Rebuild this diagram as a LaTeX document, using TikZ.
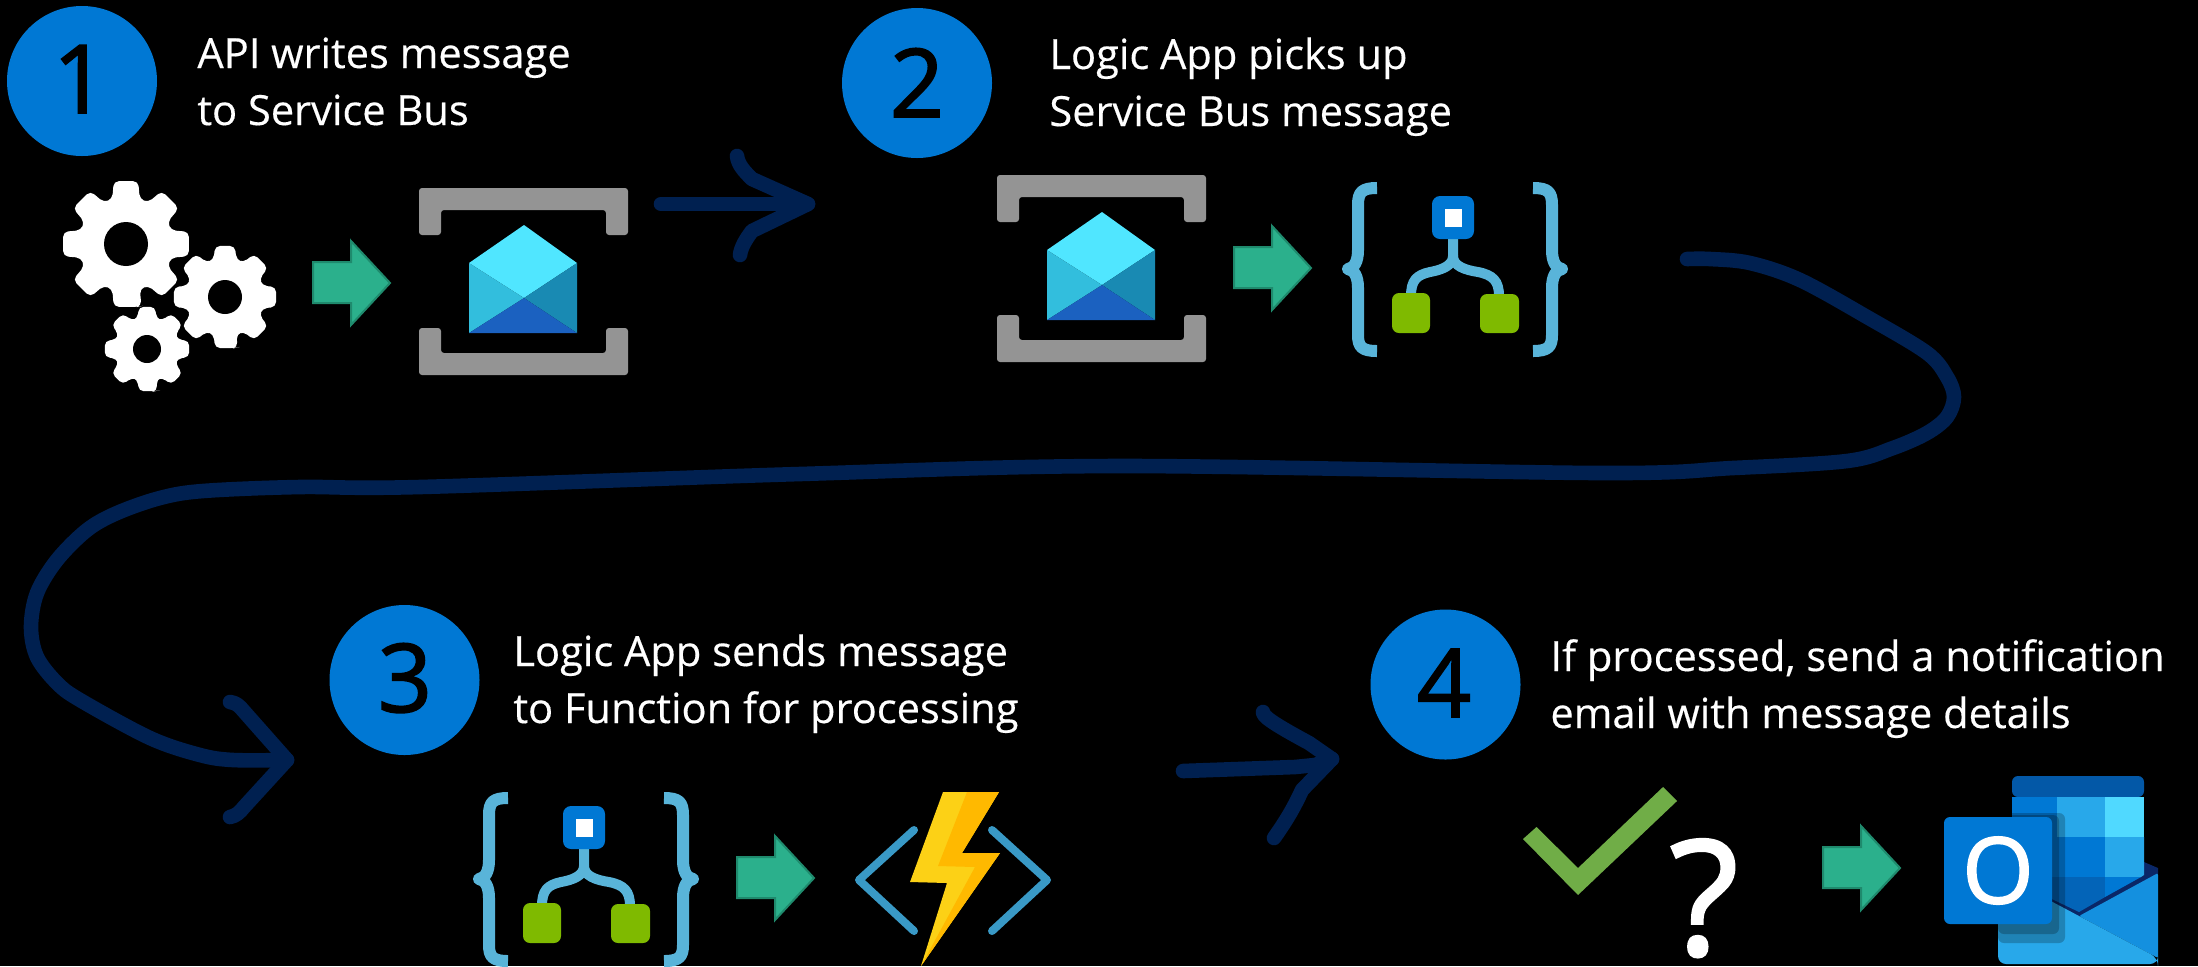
\documentclass[tikz,border=0pt]{standalone}
\usepackage{fontspec}
\setmainfont{Open Sans}
\newfontfamily\capfont[FakeBold=0.35]{Open Sans}
\newfontfamily\digfont[FakeBold=1.6]{Open Sans}
\definecolor{navy}{HTML}{002050}
\definecolor{stepblue}{HTML}{0078D4}
\definecolor{arrowfill}{HTML}{2BB08C}
\definecolor{arrowedge}{HTML}{1F8A6D}
\definecolor{sbgray}{HTML}{949494}
\definecolor{bracelight}{HTML}{59B4D9}
\definecolor{leafgreen}{HTML}{7FBA00}
\definecolor{checkgreen}{HTML}{70AD47}
\tikzset{
  conn/.style={draw=navy,line width=7.3pt,line cap=round,line join=round},
  stepdisc/.style={circle,fill=stepblue,minimum size=75pt,inner sep=0pt},
  digit/.style={text=black,anchor=base,inner sep=0pt,font=\digfont\fontsize{47.5}{50}\selectfont},
  caption/.style={text=white,anchor=base west,inner sep=0pt,align=left,font=\capfont\fontsize{20.8}{28.5}\selectfont},
  bracebar/.style={draw=bracelight,line width=6pt,line join=round},
  gearfill/.style={fill=white,rounded corners=2.5pt}
}
\newcommand{\mygear}[7]{% name cx cy R r hole rot
  \begin{scope}[shift={(#2,#3)}]
    \fill[gearfill] (#7-14:#4)
      \foreach \k in {0,45,...,315}{
        -- (#7+\k-11:#4) -- (#7+\k+11:#4) -- (#7+\k+17:#5) -- (#7+\k+28:#5)
      } -- cycle;
    \node[circle,fill=black,inner sep=0pt,minimum size=#6pt] (#1) at (0,0) {};
  \end{scope}}
\newcommand{\greenarrow}[3]{% name dx dy
  \begin{scope}[shift={(#2,#3)}]
    \node[inner sep=0pt] (#1) at (351,283) {};
    \filldraw[fill=arrowfill,draw=arrowedge,line width=1pt,line join=miter]
      (313,262) -- (351,262) -- (351,241) -- (390,283) -- (351,325) -- (351,303) -- (313,303) -- cycle;
  \end{scope}}
\newcommand{\sbicon}[3]{% name dx dy
  \begin{scope}[shift={(#2,#3)}]
    \node[inner sep=0pt] (#1) at (524,281) {};
    \fill[sbgray,rounded corners=1.5pt] (419,188) -- (628,188) -- (628,235) -- (606,235) -- (606,210) -- (441,210) -- (441,235) -- (419,235) -- cycle;
    \fill[sbgray,rounded corners=1.5pt] (419,328) -- (441,328) -- (441,353) -- (606,353) -- (606,328) -- (628,328) -- (628,375) -- (419,375) -- cycle;
    \fill[fill={rgb,255:red,80;green,230;blue,255}] (469,263) -- (524,225) -- (577,263) -- (524,298) -- cycle;
    \fill[fill={rgb,255:red,50;green,190;blue,221}] (469,263) -- (524,298) -- (469,333) -- cycle;
    \fill[fill={rgb,255:red,25;green,138;blue,179}] (577,263) -- (524,298) -- (577,333) -- cycle;
    \fill[fill={rgb,255:red,27;green,97;blue,192}] (469,333) -- (524,298) -- (577,333) -- cycle;
  \end{scope}}
\newcommand{\logicicon}[3]{% name dx dy
  \begin{scope}[shift={(#2,#3)}]
    \draw[bracebar] (1377,188) .. controls (1362,188) and (1358,192) .. (1358,205) -- (1358,250)
       .. controls (1358,262) and (1354,268) .. (1348,269) .. controls (1354,270) and (1358,276) .. (1358,288)
       -- (1358,335) .. controls (1358,347) and (1362,351) .. (1377,351);
    \draw[bracebar] (1533,188) .. controls (1548,188) and (1552,192) .. (1552,205) -- (1552,250)
       .. controls (1552,262) and (1556,268) .. (1562,269) .. controls (1556,270) and (1552,276) .. (1552,288)
       -- (1552,335) .. controls (1552,347) and (1548,351) .. (1533,351);
    \draw[draw=bracelight,line width=5pt] (1453,235) -- (1453,256) .. controls (1453,266) and (1441,270) .. (1430,272) .. controls (1416,275) and (1411,281) .. (1411,296);
    \draw[draw=bracelight,line width=5pt] (1453,256) .. controls (1453,266) and (1465,270) .. (1478,272) .. controls (1493,275) and (1499,281) .. (1499,296);
    \node[fill=stepblue,rounded corners=4pt,minimum width=21pt,minimum height=21.5pt,inner sep=0pt] (#1) at (1453,217.5) {};
    \fill[white] (1445,209) rectangle (1462,227);
    \fill[leafgreen,rounded corners=3.5pt] (1392,293) rectangle (1430,333);
    \fill[leafgreen,rounded corners=3.5pt] (1480,294) rectangle (1519,333);
  \end{scope}}
\begin{document}
\begin{tikzpicture}[x=0.5pt,y=-0.5pt]
\useasboundingbox (0,0) rectangle (2198,966);
\fill[black] (0,0) rectangle (2198,966);

% step discs and digits
\node[stepdisc] (s1) at (82,81) {};
\node[stepdisc] (s2) at (917,83) {};
\node[stepdisc] (s3) at (404.5,680) {};
\node[stepdisc] (s4) at (1445.5,684.5) {};
\node[digit] (d1) at (80,113) {1};
\node[digit] (d2) at (917,117) {2};
\node[digit] (d3) at (405,712) {3};
\node[digit] (d4) at (1444,717) {4};

% captions
\node[caption] (t1) at (197,125) {API writes message\\to Service Bus};
\node[caption] (t2) at (1049,126) {Logic App picks up\\Service Bus message};
\node[caption] (t3) at (513,723) {Logic App sends message\\to Function for processing};
\node[caption] (t4) at (1550,728) {If processed, send a notification\\email with message details};

% gears
\mygear{g1}{126}{244}{64}{47}{22}{90}
\mygear{g2}{225}{297}{52}{39}{17}{90}
\mygear{g3}{147}{349}{43}{32}{14}{90}

% green arrows
\greenarrow{a1}{0}{0}
\greenarrow{a2}{921}{-15}
\greenarrow{a3}{424}{595}
\greenarrow{a4}{1510}{585}

% service bus icons
\sbicon{b1}{0}{0}
\sbicon{b2}{578}{-13}

% logic apps
\logicicon{l1}{0}{0}
\logicicon{l2}{-869}{610}

% function
\begin{scope}
  \node[inner sep=0pt] (fn) at (953,880) {};
  \draw[draw={rgb,255:red,57;green,153;blue,198},line width=4pt,line cap=round,line join=round] (914,830) -- (859,880) -- (914,931);
  \draw[draw={rgb,255:red,57;green,153;blue,198},line width=4pt,line cap=round,line join=round] (992,830) -- (1047,880) -- (992,931);
  \fill[fill={rgb,255:red,252;green,209;blue,22}] (943,792) -- (999,792) -- (962,853) -- (1000,853) -- (921,966) -- (947,883) -- (910,882) -- cycle;
  \fill[fill={rgb,255:red,255;green,185;blue,0}] (967,792) -- (999,792) -- (962,853) -- (1000,853) -- (921,966) -- (975,867) -- (938,866) -- cycle;
\end{scope}

% check and question mark
\fill[checkgreen] (1523,839) -- (1536.5,827) -- (1578,868) -- (1663,787) -- (1677,801) -- (1578,895) -- cycle;
\node[text=white,anchor=base,inner sep=0pt,font=\digfont\fontsize{80}{80}\selectfont] (q) at (1704,955) {?};

% outlook
\begin{scope}
  \fill[fill={rgb,255:red,10;green,39;blue,103}] (2144,862) -- (2158,868) -- (2158,874) -- (2079,917) -- (2040,900) -- (2040,860) -- cycle;
  \fill[fill={rgb,255:red,3;green,88;blue,167},rounded corners=3pt] (2012,797) -- (2012,776) -- (2144,776) -- (2144,797) -- cycle;
  \fill[fill={rgb,255:red,0;green,120;blue,212}] (2012,797) rectangle (2057,837);
  \fill[fill={rgb,255:red,40;green,168;blue,234}] (2057,797) rectangle (2105,837);
  \fill[fill={rgb,255:red,80;green,217;blue,255}] (2105,797) rectangle (2144,837);
  \fill[fill={rgb,255:red,0;green,120;blue,212}] (2012,837) rectangle (2105,877);
  \fill[fill={rgb,255:red,40;green,168;blue,234}] (2105,837) -- (2144,837) -- (2144,875) -- (2141,877) -- (2105,877) -- cycle;
  \fill[fill={rgb,255:red,3;green,100;blue,184}] (2012,877) -- (2105,877) -- (2105,897) -- (2079,912) -- (2012,880) -- cycle;
  \fill[fill={rgb,255:red,0;green,120;blue,212}] (2105,877) -- (2141,877) -- (2105,897) -- cycle;
  \fill[fill={rgb,255:red,20;green,144;blue,223},rounded corners=1pt] (2158,873) -- (2158,958) -- (2079,916) -- cycle;
  \fill[fill={rgb,255:red,40;green,168;blue,234},rounded corners=4pt] (1998,890) -- (2030,890) -- (2079,916) -- (2158,958) -- (2158,964) -- (1998,964) -- cycle;
  \fill[black,opacity=.22,rounded corners=3pt] (1998,813) rectangle (2065,943);
  \fill[black,opacity=.22,rounded corners=3pt] (1998,815) rectangle (2059,934);
  \node[fill=stepblue,rounded corners=3pt,minimum width=54pt,minimum height=53.5pt,inner sep=0pt,text=white,font=\digfont\fontsize{46}{46}\selectfont] (ol) at (1998,870.5) {O};
\end{scope}

% connectors
\coordinate (c1s) at (661,204);
\coordinate (c1e) at (808,204);
\draw[conn] (c1s) -- (c1e);
\draw[conn] (737,156) .. controls (738,165) and (745,172) .. (752,179) -- (c1e) -- (752,231) .. controls (746,239) and (741,247) .. (740,255);

\coordinate (c2s) at (1687,259);
\coordinate (c2e) at (287,760);
\draw[conn] plot[smooth,tension=.55] coordinates {(c2s) (1710,259) (1750,263) (1800,280) (1867,317) (1927,353) (1947,377) (1954,397) (1947,417) (1927,433) (1893,448) (1847,461) (1733,468) (1600,473) (1121,466) (800,474) (420,487) (300,487) (203,491) (160,498) (117,513) (87,530) (57,560) (37,593) (31,627) (37,657) (57,683) (80,700) (150,738) (200,755) (233,760) (c2e)};
\draw[conn] (230,702) .. controls (236,703) and (238,705) .. (241,708) -- (c2e) -- (244,807) .. controls (240,812) and (236,816) .. (230,817);

\coordinate (c3s) at (1183,771);
\coordinate (c3e) at (1332,759);
\draw[conn] (c3s) -- (1295,767) -- (1315,765) -- (c3e);
\draw[conn] (1263,712) .. controls (1263,716) and (1270,722) .. (1309,743) -- (c3e) -- (1302,790) .. controls (1292,812) and (1283,825) .. (1274,838);
\end{tikzpicture}
\end{document}
